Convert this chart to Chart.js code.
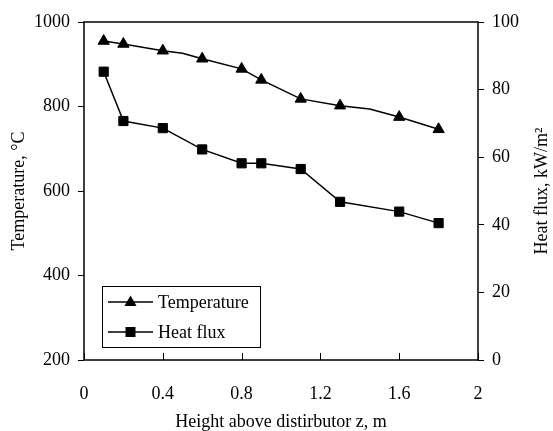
<!DOCTYPE html>
<html>
<head>
<meta charset="utf-8">
<script src="https://cdn.jsdelivr.net/npm/chart.js@4.4.1/dist/chart.umd.min.js"></script>
<style>
	html, body { margin: 0; padding: 0; background: #ffffff; }
	canvas { display: block; }
</style>
</head>
<body>
<canvas id="heat" width="553" height="431"></canvas>
<script>
// data
const tempHeights = [0.1, 0.2, 0.4, 0.5, 0.6, 0.8, 0.9, 1.1, 1.3, 1.45, 1.6, 1.8];
const temperature = [955, 948, 932, 926, 913, 889, 863, 818, 802, 794, 775, 746];
const tempMarked = [1, 1, 1, 0, 1, 1, 1, 1, 1, 0, 1, 1]; // 0 = bend in line, no marker
const fluxHeights = [0.1, 0.2, 0.4, 0.6, 0.8, 0.9, 1.1, 1.3, 1.6, 1.8];
const heatFlux = [85.3, 70.7, 68.6, 62.3, 58.2, 58.2, 56.5, 46.8, 43.9, 40.5];
const xTicks = [0, 0.4, 0.8, 1.2, 1.6, 2];
const seriesNames = ["Temperature", "Heat flux"];

const serif = "'Liberation Serif', 'Times New Roman', serif";
Chart.defaults.font.family = serif;
Chart.defaults.font.size = 18;
Chart.defaults.color = "#000000";

// plot frame, inward x ticks, right title, legend box
const framePlugin = {
	id: "frame",
	beforeDatasetsDraw(chart) {
		const { ctx, chartArea: a, scales } = chart;
		ctx.save();
		ctx.strokeStyle = "#000";
		ctx.lineWidth = 1.5;
		ctx.strokeRect(a.left, a.top, a.right - a.left, a.bottom - a.top);
		ctx.lineWidth = 1;
		xTicks.forEach((v) => {
			const px = Math.round(scales.x.getPixelForValue(v)) + 0.5;
			ctx.beginPath();
			ctx.moveTo(px, a.bottom);
			ctx.lineTo(px, a.bottom - 7);
			ctx.stroke();
		});
		// right axis title reads bottom to top
		ctx.translate(542, (a.top + a.bottom) / 2);
		ctx.rotate(-Math.PI / 2);
		ctx.fillStyle = "#000";
		ctx.font = "18px " + serif;
		ctx.textAlign = "center";
		ctx.textBaseline = "middle";
		ctx.fillText("Heat flux, kW/m\u00B2", 0, 0);
		ctx.restore();
	},
	afterDraw(chart) {
		const { ctx } = chart;
		ctx.save();
		ctx.fillStyle = "#fff";
		ctx.fillRect(102, 286, 158, 61);
		ctx.strokeStyle = "#000";
		ctx.lineWidth = 1;
		ctx.strokeRect(102.5, 286.5, 158, 61);
		const rows = [302, 332];
		rows.forEach((y, i) => {
			ctx.lineWidth = 1.5;
			ctx.beginPath();
			ctx.moveTo(108, y);
			ctx.lineTo(153, y);
			ctx.stroke();
			ctx.fillStyle = "#000";
			ctx.beginPath();
			if (i === 0) {
				ctx.moveTo(130.5, y - 6.5);
				ctx.lineTo(136.5, y + 4);
				ctx.lineTo(124.5, y + 4);
				ctx.closePath();
			} else {
				ctx.rect(125.5, y - 5, 10, 10);
			}
			ctx.fill();
			ctx.font = "18px " + serif;
			ctx.textAlign = "left";
			ctx.textBaseline = "middle";
			ctx.fillText(seriesNames[i], 158, y + 1);
		});
		ctx.restore();
	},
};

const ctx = document.getElementById("heat");
new Chart(ctx, {
	type: "line",
	data: {
		datasets: [
			{
				label: seriesNames[0],
				data: tempHeights.map((h, i) => ({ x: h, y: temperature[i] })),
				yAxisID: "y",
				borderColor: "#000",
				backgroundColor: "#000",
				borderWidth: 1.5,
				pointStyle: "triangle",
				pointRadius: tempMarked.map((m) => (m ? 6.5 : 0)),
				pointBorderWidth: 1,
				tension: 0,
			},
			{
				label: seriesNames[1],
				data: fluxHeights.map((h, i) => ({ x: h, y: heatFlux[i] })),
				yAxisID: "y1",
				borderColor: "#000",
				backgroundColor: "#000",
				borderWidth: 1.5,
				pointStyle: "rect",
				pointRadius: 6.5,
				pointBorderWidth: 1,
				tension: 0,
			},
		],
	},
	options: {
		responsive: false,
		animation: false,
		devicePixelRatio: 1,
		layout: { padding: { top: 22, left: 0, right: 0, bottom: 0 } },
		plugins: {
			legend: { display: false },
			tooltip: { enabled: false },
		},
		scales: {
			x: {
				type: "linear",
				min: 0,
				max: 2,
				afterBuildTicks: (scale) => {
					scale.ticks = xTicks.map((v) => ({ value: v }));
				},
				ticks: {
					padding: 23,
					callback: (v) => String(Math.round(v * 10) / 10),
				},
				grid: { display: false, drawTicks: false },
				border: { display: false },
				title: {
					display: true,
					text: "Height above distirbutor z, m",
					font: { lineHeight: 1 },
					padding: { top: 0, bottom: 0 },
				},
				afterFit: (scale) => {
					scale.height = 71;
				},
			},
			y: {
				position: "left",
				min: 200,
				max: 1000,
				ticks: { stepSize: 200, padding: 8, callback: (v) => String(v) },
				grid: {
					drawOnChartArea: false,
					tickLength: 6,
					color: "#000",
				},
				border: { display: false },
				title: {
					display: true,
					text: "Temperature, \u00B0C",
					padding: { top: 8, bottom: 0 },
				},
				afterFit: (scale) => {
					scale.width = 84;
				},
			},
			y1: {
				position: "right",
				min: 0,
				max: 100,
				ticks: { stepSize: 20, padding: 8, callback: (v) => String(v) },
				grid: {
					drawOnChartArea: false,
					tickLength: 6,
					color: "#000",
				},
				border: { display: false },
				afterFit: (scale) => {
					scale.width = 75;
				},
			},
		},
	},
	plugins: [framePlugin],
});
</script>
</body>
</html>
